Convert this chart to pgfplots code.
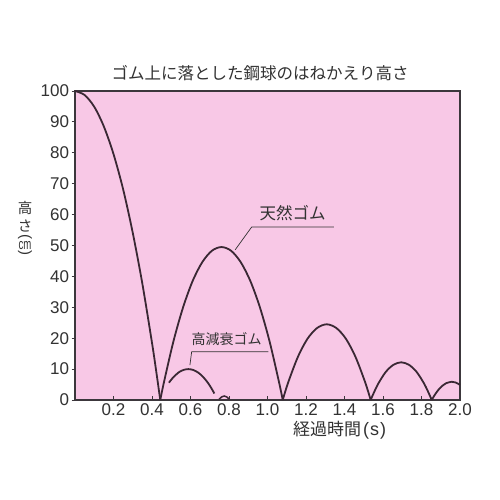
\documentclass[border=0pt]{standalone}
\usepackage{pgfplots}
\pgfplotsset{compat=1.18}
\usepackage{graphicx}
\usepackage{fontspec}
\setmainfont{Liberation Sans}
\newfontfamily\jp{Noto Sans CJK JP}
\definecolor{bgpink}{RGB}{248,200,230}
\definecolor{curve}{RGB}{58,40,52}
\definecolor{axcol}{RGB}{60,55,60}
\definecolor{txt}{RGB}{50,50,50}
\begin{document}
\begin{tikzpicture}[x=1pt,y=1pt]
\fill[white] (0,0) rectangle (500,500);
\path[use as bounding box] (0,0) rectangle (500,500);
\begin{axis}[
  at={(75pt,100pt)}, anchor=south west,
  scale only axis, width=385pt, height=309pt,
  xmin=0, xmax=2.0, ymin=0, ymax=100,
  axis background/.style={fill=bgpink},
  axis line style={axcol, line width=1.3pt},
  xtick={0.2,0.4,0.6,0.8,1.0,1.2,1.4,1.6,1.8,2.0},
  ytick={0,10,20,30,40,50,60,70,80,90,100},
  xtick pos=bottom, ytick pos=left,
  tick align=inside,
  major tick length=3.5pt,
  tick style={axcol, line width=0.8pt},
  ytick style={xshift=-3.5pt},
  /pgf/number format/assume math mode=true,
  xticklabel style={/pgf/number format/fixed, /pgf/number format/fixed zerofill, /pgf/number format/precision=1, yshift=0pt},
  ticklabel style={font=\fontsize{17}{17}\selectfont, text=txt},
  yticklabel style={xshift=-2.5pt},
  clip=false,
]
% natural rubber
\addplot[curve, line width=1.8pt, smooth] coordinates {
(0,100) (0.05,98.7) (0.1,94.9) (0.15,88.5) (0.2,79.6) (0.25,68.2) (0.3,54.1) (0.35,37.6) (0.4,18.5) (0.42,10.1) (0.443,0)};
\addplot[curve, line width=1.8pt, smooth] coordinates {
(0.443,0) (0.461,5.45) (0.511,18.9) (0.561,29.9) (0.611,38.5) (0.661,44.6) (0.711,48.3) (0.761,49.5) (0.811,48.3) (0.861,44.6) (0.911,38.5) (0.961,29.9) (1.011,18.9) (1.061,5.45) (1.079,0)};
\addplot[curve, line width=1.8pt, smooth] coordinates {
(1.079,0) (1.1075,5.7) (1.1575,13.9) (1.2075,19.8) (1.2575,23.3) (1.3075,24.5) (1.3575,23.3) (1.4075,19.8) (1.4575,13.9) (1.5075,5.7) (1.536,0)};
\addplot[curve, line width=1.8pt, smooth] coordinates {
(1.536,0) (1.5445,1.27) (1.5745,5.2) (1.6145,9.1) (1.6545,11.4) (1.6945,12.2) (1.7345,11.4) (1.7745,9.1) (1.8145,5.2) (1.8445,1.27) (1.853,0)};
\addplot[curve, line width=1.8pt, smooth] coordinates {
(1.853,0) (1.867,1.48) (1.887,3.23) (1.907,4.54) (1.927,5.41) (1.957,5.9) (1.977,5.68) (2.0,4.9)};
% high damping rubber
\addplot[curve, line width=1.8pt, smooth] coordinates {
(0.488,5.6) (0.51,7.3) (0.54,9.0) (0.565,9.75) (0.589,10) (0.615,9.7) (0.64,8.87) (0.665,7.5) (0.69,5.6) (0.71,3.66) (0.724,2.1)};
\addplot[curve, line width=1.5pt, smooth] coordinates {
(0.748,0.2) (0.762,1.0) (0.775,1.3) (0.788,1.0) (0.802,0.2)};
% annotations
\draw[txt, line width=0.7pt] (axis cs:0.832,48.6) -- (axis cs:0.918,56.0) -- (axis cs:1.345,56.0);
\node[txt, font=\jp\fontsize{16.5}{16.5}\selectfont] at (axis cs:1.131,60.6) {天然ゴム};
\draw[txt, line width=0.7pt] (axis cs:0.597,11.3) .. controls (axis cs:0.599,13.5) .. (axis cs:0.606,15.6) -- (axis cs:1.004,15.6);
\node[txt, font=\jp\fontsize{14}{14}\selectfont] at (axis cs:0.788,19.6) {高減衰ゴム};
\end{axis}
% title and axis labels
\node[txt, font=\jp\fontsize{16.5}{16.5}\selectfont] at (260,427) {ゴム上に落とした鋼球のはねかえり高さ};
\node[txt, font=\jp\fontsize{17}{17}\selectfont, anchor=west, inner sep=0pt] at (293,69.5) {経過時間\hspace{2pt}\fontsize{18}{18}\rmfamily(\hspace{1pt}s\hspace{1pt})};
\node[txt, font=\jp\fontsize{14.5}{14.5}\selectfont, inner sep=0pt] at (25,292.5) {高};
\node[txt, font=\jp\fontsize{14.5}{14.5}\selectfont, inner sep=0pt] at (25,273.5) {さ};
\node[txt, font=\fontsize{15}{15}\selectfont, rotate=-90, inner sep=0pt] at (25,262.5) {(};
\node[txt, font=\fontsize{12}{12}\selectfont, inner sep=0pt] at (25,254.5) {\scalebox{0.8}[1.25]{cm}};
\node[txt, font=\fontsize{15}{15}\selectfont, rotate=-90, inner sep=0pt] at (25,246.5) {)};
\end{tikzpicture}
\end{document}
